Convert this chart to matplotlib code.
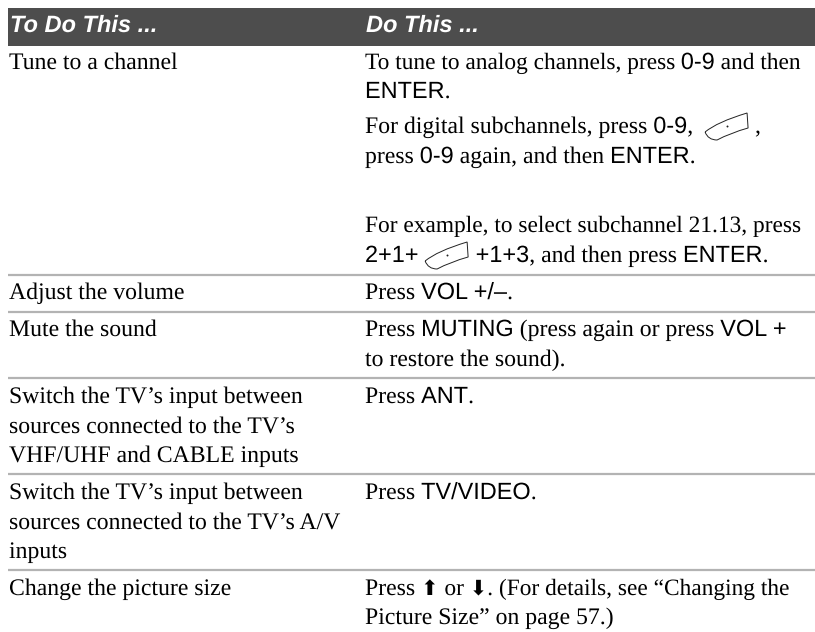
import matplotlib
matplotlib.use("Agg")
import matplotlib.pyplot as plt
import matplotlib.patheffects as pe
from matplotlib.path import Path
from matplotlib.patches import PathPatch, Rectangle

plt.rcParams["text.hinting"] = "no_hinting"
plt.rcParams["text.hinting_factor"] = 8

S, T, H, B, A = "serif", "tight", "sans", "button", "arrow"

headers = ["To Do This ...", "Do This ..."]

left_lines = [
    ["Tune to a channel"],
    ["Adjust the volume"],
    ["Mute the sound"],
    ["Switch the TV’s input between", "sources connected to the TV’s", "VHF/UHF and CABLE inputs"],
    ["Switch the TV’s input between", "sources connected to the TV’s A/V", "inputs"],
    ["Change the picture size"],
]

right_lines = [
    [[(T, "To tune to analog channels, press "), (H, "0-9"), (T, " and then")],
     [(H, "ENTER"), (S, ".")],
     [(S, "For digital subchannels, press "), (H, "0-9"), (S, ",  "), (B, ""), (S, " ,")],
     [(S, "press "), (H, "0-9"), (S, " again, and then "), (H, "ENTER"), (S, ".")],
     [(T, "For example, to select subchannel 21.13, press")],
     [(H, "2+1+ "), (B, ""), (H, " +1+3"), (S, ", and then press "), (H, "ENTER"), (S, ".")]],
    [[(S, "Press "), (H, "VOL +/–"), (S, ".")]],
    [[(S, "Press "), (H, "MUTING"), (S, " (press again or press "), (H, "VOL +")],
     [(S, "to restore the sound).")]],
    [[(S, "Press "), (H, "ANT"), (S, ".")]],
    [[(S, "Press "), (H, "TV/VIDEO"), (S, ".")]],
    [[(S, "Press "), (A, "⬆"), (T, " or "), (A, "⬇"), (T, ". (For details, see “Changing the")],
     [(S, "Picture Size” on page 57.)")]],
]

left_baselines = [[69], [299], [336], [403, 433, 462], [499, 529, 558], [595]]
right_baselines = [[69, 98, 133, 163, 232, 262], [299], [336, 366], [403], [499], [595, 624]]
rule_ys = [275, 312, 378, 474, 570]

W, HT = 815, 632
fig = plt.figure(figsize=(W / 100, HT / 100), dpi=100, facecolor="white")
ax = fig.add_axes([0, 0, 1, 1])
ax.set_xlim(0, W)
ax.set_ylim(HT, 0)
ax.axis("off")
renderer = fig.canvas.get_renderer()

STY = {
    S: dict(family="Liberation Serif", fontsize=17.1),
    T: dict(family="Liberation Serif", fontsize=16.85),
    H: dict(family="Liberation Sans", fontsize=16.9),
    A: dict(family="DejaVu Sans", fontsize=15),
}
BUTTON_W = 44
EXACT = [pe.Normal()]


def width(text, style):
    t = ax.text(0, 0, "|" + text + "|", **STY[style])
    a = t.get_window_extent(renderer).width
    t.set_text("||")
    b = t.get_window_extent(renderer).width
    t.remove()
    return a - b


def button(x, base):
    top = base - 20
    pts = [(x, top + 19), (x + 12, top + 9), (x + 42, top), (x + 43, top + 15),
           (x + 25, top + 20), (x + 12, top + 27), (x + 3, top + 27), (x, top + 19)]
    codes = [Path.MOVETO, Path.CURVE3, Path.CURVE3, Path.LINETO,
             Path.CURVE3, Path.CURVE3, Path.CURVE3, Path.CURVE3]
    ax.add_patch(PathPatch(Path(pts, codes), fc="white", ec="#222222", lw=0.7))
    ax.plot([x + 22], [top + 13], marker="o", ms=1.4, color="#222222", mew=0)


ax.add_patch(Rectangle((8, 8), W - 8, 38, fc="#4d4d4d", ec="none"))
for y in rule_ys:
    ax.plot([8, W], [y, y], color="#b3b3b3", lw=1.6, solid_capstyle="butt")

for x, h in zip([10, 366], headers):
    ax.text(x, 32, h, family="Liberation Sans", fontsize=17.0, weight="bold", style="italic",
            color="white", va="baseline", path_effects=EXACT)

for lines, bases in zip(left_lines, left_baselines):
    for line, b in zip(lines, bases):
        ax.text(9, b, line, color="black", va="baseline", path_effects=EXACT, **STY[S])

for lines, bases in zip(right_lines, right_baselines):
    for runs, b in zip(lines, bases):
        x = 365
        for style, text in runs:
            if style == B:
                button(x, b)
                x += BUTTON_W
                continue
            ax.text(x, b, text, color="black", va="baseline", path_effects=EXACT, **STY[style])
            x += width(text, style)

fig.savefig("out.png", dpi=100, facecolor="white")
